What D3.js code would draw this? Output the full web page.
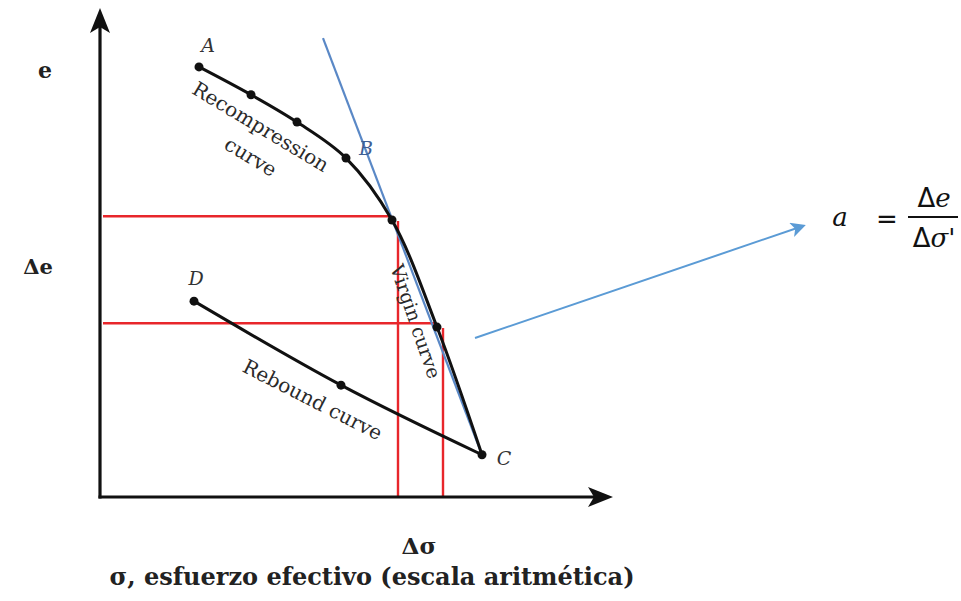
<!DOCTYPE html>
<html>
<head>
<meta charset="utf-8">
<script src="https://cdn.jsdelivr.net/npm/d3@7"></script>
<style>
  html, body { margin: 0; padding: 0; background: #fff; }
  svg { display: block; }
</style>
</head>
<body>
<svg id="chart" width="961" height="601"></svg>
<script>
// Consolidation curve: void ratio e against effective stress σ (arithmetic scale)
// Recompression branch, from A through B to the start of the virgin branch
const recompSigma = [19.8, 30.2, 39.4, 49.2, 58.4];
const recompE     = [89.6, 83.8, 78.1, 70.6, 57.7];
// Virgin compression branch, ending at C
const virginSigma = [58.4, 67.4, 76.4];
const virginE     = [57.7, 35.4, 8.8];
// Rebound branch from D back to C
const reboundSigma = [18.8, 48.2, 76.4];
const reboundE     = [40.8, 23.3, 8.8];
// Tangent to the virgin branch
const tangentSigma = [44.6, 76.4];
const tangentE     = [95.6, 8.8];
// Reference levels for Δe and Δσ
const deltaELevels     = [58.5, 36.2];
const deltaSigmaLevels = [59.6, 68.6];
// Point labels
const pointNames = ["A", "B", "C", "D"];
const pointSigma = [19.8, 49.2, 76.4, 18.8];
const pointE     = [89.6, 70.6, 8.8, 40.8];

const svg = d3.select("#chart");

const x = d3.scaleLinear().domain([0, 100]).range([100, 600]);
const y = d3.scaleLinear().domain([0, 100]).range([497, 17]);

const serif = "'DejaVu Serif', serif";
const ink = "#111";

// Red construction lines for Δe and Δσ
const red = "#e8262b";
deltaELevels.forEach((ev, i) => {
  svg.append("line")
    .attr("x1", x(0.6)).attr("x2", x(deltaSigmaLevels[i] - (i === 0 ? 1.2 : 1.4)))
    .attr("y1", y(ev)).attr("y2", y(ev))
    .attr("stroke", red).attr("stroke-width", 2.4);
});
deltaSigmaLevels.forEach((sv, i) => {
  svg.append("line")
    .attr("x1", x(sv)).attr("x2", x(sv))
    .attr("y1", y(deltaELevels[i] - 1)).attr("y2", y(0))
    .attr("stroke", red).attr("stroke-width", 2.4);
});

// Tangent line (blue)
svg.append("line")
  .attr("x1", x(tangentSigma[0])).attr("y1", y(tangentE[0]))
  .attr("x2", x(tangentSigma[1])).attr("y2", y(tangentE[1]))
  .attr("stroke", "#5a88c6").attr("stroke-width", 2.2);

// Curves
const line = d3.line().x(d => x(d[0])).y(d => y(d[1])).curve(d3.curveCatmullRom.alpha(0.5));
const curvePts = recompSigma.map((s, i) => [s, recompE[i]])
  .concat(virginSigma.slice(1).map((s, i) => [s, virginE[i + 1]]));
svg.append("path").attr("d", line(curvePts))
  .attr("fill", "none").attr("stroke", ink).attr("stroke-width", 3);

const rebPts = reboundSigma.map((s, i) => [s, reboundE[i]]);
svg.append("path").attr("d", d3.line().x(d => x(d[0])).y(d => y(d[1])).curve(d3.curveNatural)(rebPts))
  .attr("fill", "none").attr("stroke", ink).attr("stroke-width", 3);

// Measured points
const dots = curvePts.concat(rebPts.slice(0, 2));
svg.selectAll("circle.pt").data(dots).join("circle")
  .attr("class", "pt")
  .attr("cx", d => x(d[0])).attr("cy", d => y(d[1]))
  .attr("r", 4.5).attr("fill", ink);

// Axes
const axisG = svg.append("g");
axisG.append("line").attr("x1", x(0)).attr("x2", x(0))
  .attr("y1", y(0) + 1.5).attr("y2", 24).attr("stroke", ink).attr("stroke-width", 3.2);
axisG.append("line").attr("x1", x(0) - 1.5).attr("x2", 598)
  .attr("y1", y(0)).attr("y2", y(0)).attr("stroke", ink).attr("stroke-width", 3.2);
// Arrowheads
const ax0 = x(0);
axisG.append("path")
  .attr("d", `M${ax0},8 L${ax0 + 10},33 L${ax0},27 L${ax0 - 10},33 Z`)
  .attr("fill", ink);
const ay0 = y(0);
axisG.append("path")
  .attr("d", `M613,${ay0} L588,${ay0 - 10} L594,${ay0} L588,${ay0 + 10} Z`)
  .attr("fill", ink);

// Point labels
const labelOffset = { A: [9, -20], B: [20, -8], C: [22, 5], D: [2, -21] };
pointNames.forEach((n, i) => {
  svg.append("text")
    .attr("x", x(pointSigma[i]) + labelOffset[n][0])
    .attr("y", y(pointE[i]) + labelOffset[n][1])
    .attr("text-anchor", "middle").attr("dominant-baseline", "middle")
    .attr("font-family", serif).attr("font-style", "italic")
    .attr("font-size", 19).attr("fill", n === "B" ? "#3f5f95" : "#333")
    .text(n);
});

// Curve names along the branches
function rotLabel(txt, cx, cy, ang, size) {
  svg.append("text")
    .attr("transform", `translate(${cx},${cy}) rotate(${ang})`)
    .attr("text-anchor", "middle").attr("dominant-baseline", "middle")
    .attr("font-family", serif).attr("font-size", size).attr("fill", "#2a2a2a")
    .text(txt);
}
rotLabel("Recompression", 260, 128, 31, 20);
rotLabel("curve", 250, 158, 31, 20);
rotLabel("Virgin curve", 414, 322, 71, 19);
rotLabel("Rebound curve", 312, 401, 27, 20);

// Axis titles
const bold = (xp, yp, size, txt) => svg.append("text").attr("x", xp).attr("y", yp)
  .attr("text-anchor", "middle").attr("dominant-baseline", "middle")
  .attr("font-family", serif).attr("font-weight", "bold").attr("font-size", size)
  .attr("fill", "#222").text(txt);
bold(45, 72, 22, "e");
bold(38, 268, 21, "Δe");
bold(419, 548, 23, "Δσ");
bold(372, 578, 24, "σ, esfuerzo efectivo (escala aritmética)");

// Pointer to the slope definition
const defs = svg.append("defs");
defs.append("marker").attr("id", "head")
  .attr("viewBox", "0 0 10 10").attr("refX", 8).attr("refY", 5)
  .attr("markerWidth", 7.5).attr("markerHeight", 7.5).attr("orient", "auto")
  .append("path").attr("d", "M0,0 L10,5 L0,10 L2.5,5 Z").attr("fill", "#5b9bd5");
svg.append("line")
  .attr("x1", 475).attr("y1", 338).attr("x2", 803).attr("y2", 226)
  .attr("stroke", "#5b9bd5").attr("stroke-width", 2)
  .attr("marker-end", "url(#head)");

// Coefficient of compressibility a = Δe / Δσ'
const f = svg.append("g").attr("font-size", 26).attr("fill", "#111");
f.append("text").attr("x", 840).attr("y", 226).attr("text-anchor", "middle")
  .attr("font-family", serif).attr("font-style", "italic").text("a");
f.append("text").attr("x", 887).attr("y", 228).attr("text-anchor", "middle")
  .attr("font-family", "'DejaVu Sans', sans-serif").text("=");
f.append("line").attr("x1", 908).attr("x2", 958).attr("y1", 217).attr("y2", 217)
  .attr("stroke", "#111").attr("stroke-width", 2);
const num = f.append("text").attr("x", 934).attr("y", 207).attr("text-anchor", "middle");
num.append("tspan").attr("font-family", "'DejaVu Sans', sans-serif").text("Δ");
num.append("tspan").attr("font-family", serif).attr("font-style", "italic").text("e");
const den = f.append("text").attr("x", 934).attr("y", 247).attr("text-anchor", "middle");
den.append("tspan").attr("font-family", "'DejaVu Sans', sans-serif").text("Δ");
den.append("tspan").attr("font-family", serif).attr("font-style", "italic").text("σ'");
</script>
</body>
</html>
